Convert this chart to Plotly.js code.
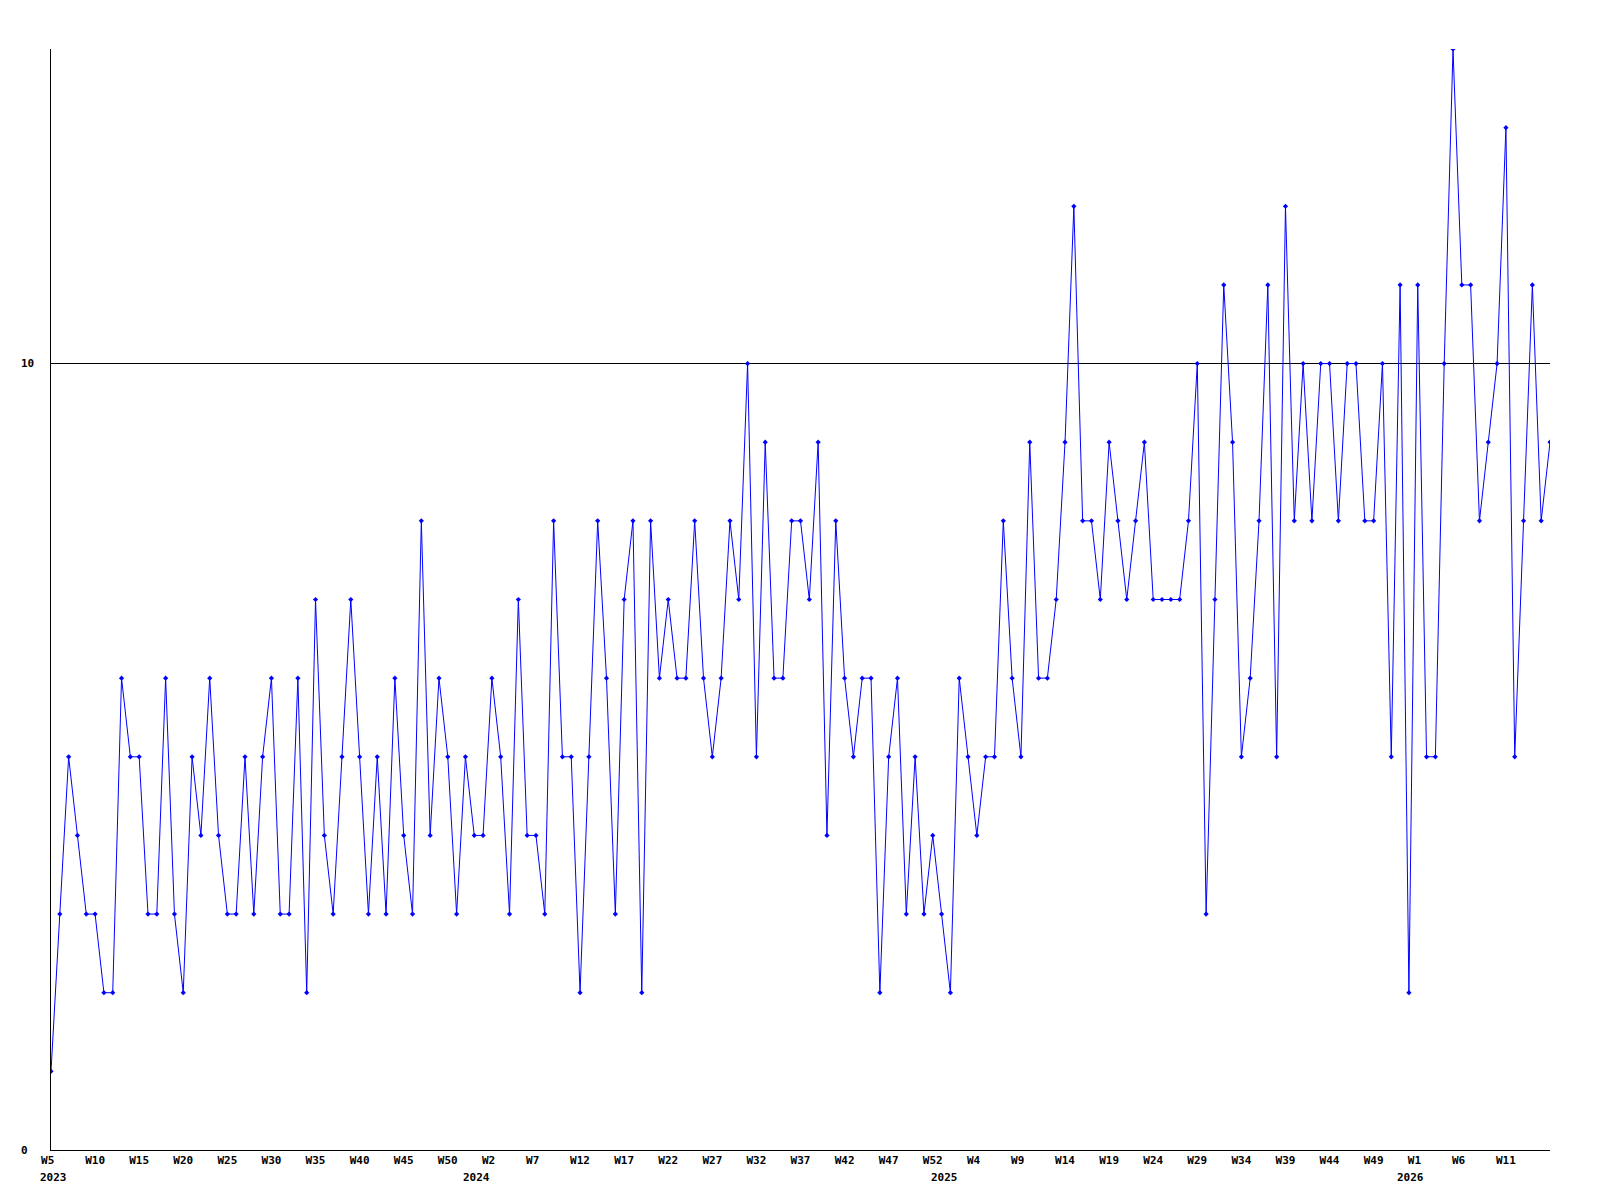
<!DOCTYPE html>
<html>
<head>
<meta charset="utf-8">
<script src="https://cdn.plot.ly/plotly-3.0.1.min.js"></script>
<style>
  html, body { margin: 0; padding: 0; background: #ffffff; }
  #chart { width: 1600px; height: 1200px; }
</style>
</head>
<body>
<div id="chart"></div>
<script>
// Weekly values
const values2023 = [1,3,5,4,3,3,2,2,6,5,5,3,3,6,3,2,5,4,6,4,3,3,5,3,5,6,
                    3,3,6,2,7,4,3,5,7,5,3,5,3,6,4,3,8,4,6,5,3,5];
const values2024 = [4,4,6,5,3,7,4,4,3,8,5,5,2,5,8,6,3,7,8,2,8,6,7,6,6,8,
                    6,5,6,8,7,10,5,9,6,6,8,8,7,9,4,8,6,5,6,6,2,5,6,3,5,3];
const values2025 = [4,3,2,6,5,4,5,5,8,6,5,9,6,6,7,9,12,8,8,7,9,8,7,8,9,7,
                    7,7,7,8,10,3,7,11,9,5,6,8,11,5,12,8,10,8,10,10,8,10,10,8,8,10];
const values2026 = [5,11,2,11,5,5,10,14,11,11,8,9,10,13,5,8,11,8,9];

// Tick labels (one every 5 weeks) and year labels
const weekTickLabels = ["W5","W10","W15","W20","W25","W30","W35","W40","W45","W50",
                        "W2","W7","W12","W17","W22","W27","W32","W37","W42","W47","W52",
                        "W4","W9","W14","W19","W24","W29","W34","W39","W44","W49",
                        "W1","W6","W11"];
const yearLabels = ["2023","2024","2025","2026"];
const yearLabelPos = [0.3, 48.2, 101.3, 154.2];
const yTickValues = [0, 10];

const values = [].concat(values2023, values2024, values2025, values2026);
const xIdx = values.map((v, i) => i);
const tickVals = weekTickLabels.map((t, i) => i * 5);
// labels are laid out in a fixed 3-character cell, as in the reference
const tickTextPadded = weekTickLabels.map(t => t.padEnd(3, "\u00a0"));

const FONT = {family: "DejaVu Sans Mono, Liberation Mono, monospace", size: 11, color: "#000000", weight: "bold"};

const trace = {
  x: xIdx,
  y: values,
  type: "scatter",
  mode: "lines+markers",
  line: {color: "#0000ff", width: 1},
  marker: {color: "#0000ff", size: 4, symbol: "diamond"},
  hoverinfo: "skip"
};

const annotations = [];
yearLabels.forEach((t, i) => {
  annotations.push({
    text: t, x: yearLabelPos[i], xref: "x", y: -0.0254, yref: "paper",
    xanchor: "center", yanchor: "middle", showarrow: false, font: FONT
  });
});
yTickValues.forEach(v => {
  annotations.push({
    text: String(v), x: -0.0215, xref: "paper", y: v, yref: "y",
    xanchor: "left", yanchor: "middle", showarrow: false, font: FONT
  });
});

const layout = {
  width: 1600, height: 1200,
  margin: {l: 51, r: 50, t: 49, b: 50, pad: 0},
  paper_bgcolor: "#ffffff",
  plot_bgcolor: "#ffffff",
  showlegend: false,
  xaxis: {
    range: [0, 170],
    tickvals: tickVals,
    ticktext: tickTextPadded,
    tickangle: 0,
    showgrid: false,
    zeroline: false,
    showline: true,
    linecolor: "#000000",
    linewidth: 1,
    ticks: "",
    tickfont: FONT,
    fixedrange: true
  },
  yaxis: {
    range: [0, 14],
    tickvals: [10],
    showticklabels: false,
    showgrid: true,
    gridcolor: "#000000",
    gridwidth: 1,
    zeroline: false,
    showline: true,
    linecolor: "#000000",
    linewidth: 1,
    ticks: "",
    fixedrange: true
  },
  annotations: annotations
};

Plotly.newPlot("chart", [trace], layout, {displayModeBar: false, staticPlot: true});
</script>
</body>
</html>
